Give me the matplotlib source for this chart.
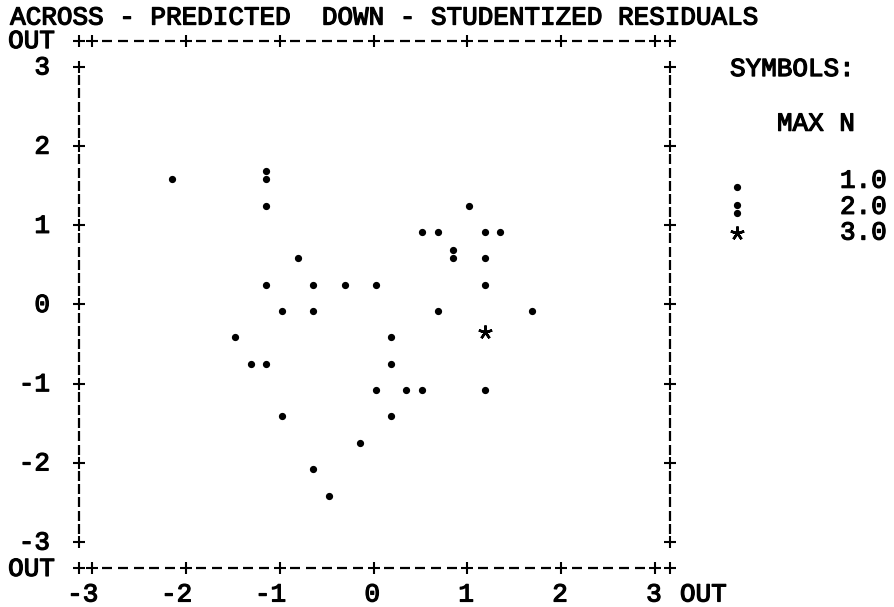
import matplotlib
matplotlib.use("Agg")
import matplotlib.pyplot as plt
import matplotlib.transforms as mtransforms
import matplotlib.patheffects as pe
import numpy as np

# Plotted cells: predicted value (across), studentized residual (down), cases per cell
predicted = [-2.17, -1.17, -1.17, 1.00, 0.50, 0.67, 1.17, 1.33, 0.83, -0.83, 1.17,
             -1.17, -0.67, -0.33, 0.00, 1.17, -1.00, -0.67, 0.67, 1.67,
             -1.50, 0.17, 1.17, -1.33, -1.17, 0.17, 0.00, 0.33, 0.50, 1.17,
             -1.00, 0.17, -0.17, -0.67, -0.50]
residual = [1.67, 1.67, 1.33, 1.33, 1.00, 1.00, 1.00, 1.00, 0.67, 0.67, 0.67,
            0.33, 0.33, 0.33, 0.33, 0.33, 0.00, 0.00, 0.00, 0.00,
            -0.33, -0.33, -0.33, -0.67, -0.67, -0.67, -1.00, -1.00, -1.00, -1.00,
            -1.33, -1.33, -1.67, -2.00, -2.33]
counts = [1, 2, 1, 1, 1, 1, 1, 1, 2, 1, 1,
          1, 1, 1, 1, 1, 1, 1, 1, 1,
          1, 1, 3, 1, 1, 1, 1, 1, 1, 1,
          1, 1, 1, 1, 1]

x_ticks = [-3, -2, -1, 0, 1, 2, 3]
y_ticks = [3, 2, 1, 0, -1, -2, -3]
x_tick_labels = ["-3", "-2", "-1", "0", "1", "2", "3"]
y_tick_labels = ["3", "2", "1", "0", "-1", "-2", "-3"]

title = "ACROSS - PREDICTED  DOWN - STUDENTIZED RESIDUALS"
legend_head = ["SYMBOLS:", "MAX N"]
legend_values = ["1.0", "2.0", "3.0"]

INK = "black"
FONT = dict(family="Liberation Mono", size=18.7, weight="normal", color=INK,
            path_effects=[pe.withStroke(linewidth=0.9, foreground=INK)])

fig = plt.figure(figsize=(8.95, 6.07), dpi=100)
ax = fig.add_axes([0, 0, 1, 1])
ax.set_xlim(-3.978, 5.554)
ax.set_ylim(-3.82, 3.845)
ax.axis("off")

# text baseline sits a little below the centre of the capitals
BASE = 0.095
XL, XR = -3.136, 3.158      # frame columns
YT, YB = 3.333, -3.333      # frame rows


def shifted(dx_px, dy_px):
    return ax.transData + mtransforms.ScaledTranslation(dx_px / 100, -dy_px / 100,
                                                        fig.dpi_scale_trans)


plus = dict(marker="+", ms=8.2, mew=1.5, color=INK, ls="none")
dash_h = dict(marker="_", ms=7.2, mew=1.6, color=INK, ls="none")
dash_v = dict(marker="|", ms=6.5, mew=1.6, color=INK, ls="none")

# horizontal frame lines made of '+' and '-' characters
for yy in (YT, YB):
    ax.plot(x_ticks + [XL, XR], [yy] * (len(x_ticks) + 2), **plus)
    xs = [t + k / 6 for t in x_ticks[:-1] for k in range(1, 6)]
    ax.plot(xs, [yy] * len(xs), **dash_h)

# vertical frame lines with '+' at every unit
for xx in (XL, XR):
    ax.plot([xx] * len(y_ticks), y_ticks, **plus)
    ys = [t - k / 6 for t in y_ticks[:-1] for k in range(1, 6)]
    ax.plot([xx] * len(ys), ys, **dash_v)

# axis labels
for t, lab in zip(y_ticks, y_tick_labels):
    ax.text(-3.445, t - BASE, lab, ha="right", va="baseline", **FONT)
for t, lab in zip(x_ticks, x_tick_labels):
    ax.text(t + 0.07, -3.655 - BASE, lab, ha="right", va="baseline", **FONT)
ax.text(-3.392, YT - BASE, "OUT", ha="right", va="baseline", **FONT)
ax.text(-3.392, YB - BASE, "OUT", ha="right", va="baseline", **FONT)
ax.text(3.264, -3.655 - BASE, "OUT", ha="left", va="baseline", **FONT)
ax.text(-3.87, 3.63 - BASE, title, ha="left", va="baseline", **FONT)

# plot symbols: '.' one case, ':' two cases, '*' three cases
dot = dict(marker="o", ms=4.2, color=INK, mec=INK, ls="none")
star = dict(marker=(5, 2, 0), ms=10, mew=1.8, color=INK, ls="none")
px = np.array(predicted)
ry = np.array(residual)
n = np.array(counts)


def draw_symbols(xv, yv, nv):
    one = nv == 1
    two = nv == 2
    three = nv >= 3
    ax.plot(xv[one], yv[one], transform=shifted(2, 6.5), **dot)
    ax.plot(xv[two], yv[two], transform=shifted(2, 7), **dot)
    ax.plot(xv[two], yv[two], transform=shifted(2, -1), **dot)
    ax.plot(xv[three], yv[three], transform=shifted(2, 1), **star)


draw_symbols(px, ry, n)

# symbol key
ax.text(3.797, 2.98 - BASE, legend_head[0], ha="left", va="baseline", **FONT)
ax.text(4.297, 2.29 - BASE, legend_head[1], ha="left", va="baseline", **FONT)
key_rows = np.array([1.57, 1.24, 0.915])
key_counts = np.array([1, 2, 3])
draw_symbols(np.full(3, 3.851), key_rows, key_counts)
for r, lab in zip(key_rows, legend_values):
    ax.text(4.968, r - BASE, lab, ha="left", va="baseline", **FONT)

fig.savefig("out.png", dpi=100, facecolor="white")
